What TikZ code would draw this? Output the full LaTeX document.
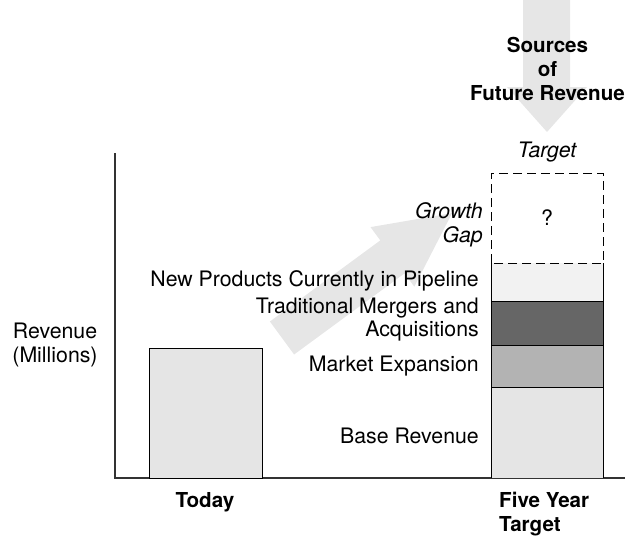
\documentclass[tikz,border=0pt]{standalone}
\usepackage{fontspec}
\setmainfont{TeX Gyre Heros}
\definecolor{arrowgray}{HTML}{E6E6E6}
\definecolor{lightbar}{HTML}{E5E5E5}
\definecolor{pipebar}{HTML}{F2F2F2}
\definecolor{mabar}{HTML}{666666}
\definecolor{mktbar}{HTML}{B3B3B3}
\definecolor{axisgray}{HTML}{333333}
\begin{document}
\begin{tikzpicture}[x=1pt,y=-1pt,
  lbl/.style={font=\fontsize{21.3}{23.5}\selectfont, inner sep=0pt, align=center},
  lblb/.style={font=\fontsize{20.6}{23.8}\selectfont\bfseries, inner sep=0pt, align=center},
  lbli/.style={font=\fontsize{21.3}{23.5}\selectfont\itshape, inner sep=0pt, align=center},
  barline/.style={draw=black, line width=0.9pt},
  axisline/.style={draw=axisgray, line width=1.3pt},
  bigarrow/.style={fill=arrowgray}]
\useasboundingbox (0,0) rectangle (627,541);
% large arrows
\fill[bigarrow] (523,0) -- (523,87) -- (507,87) -- (547,132) -- (587,87) -- (570,87) -- (570,0) -- cycle;
\fill[bigarrow] (269.9,321.5) -- (380.3,240.4) -- (370.5,227.1) -- (452.1,213.1) -- (414.3,286.7) -- (404.5,273.4) -- (294.1,354.5) -- cycle;
% axes
\draw[axisline] (115,153) -- (115,478) -- (625,478);
% today bar
\filldraw[fill=lightbar, barline] (149,348) rectangle (262,478);
% five year bar
\fill[lightbar] (491,387) rectangle (603,478);
\fill[mktbar] (491,345) rectangle (603,387);
\fill[mabar] (491,301) rectangle (603,345);
\fill[pipebar] (491,263) rectangle (603,301);
\draw[barline] (491,478) -- (491,263);
\draw[barline] (603,478) -- (603,263);
\draw[barline] (491,301) -- (603,301);
\draw[barline] (491,345) -- (603,345);
\draw[barline] (491,387) -- (603,387);
\draw[barline, line width=1pt, dash pattern=on 9pt off 5pt] (491,263) -- (491,173) -- (603,173) -- (603,263) -- cycle;
% labels
\node[lblb] (src) at (547.5,69) {Sources\\of\\Future Revenue};
\node[lbli] (tgt) at (547,152) {Target};
\node[lbli, align=right, anchor=east] (gg) at (483,225) {Growth\\Gap};
\node[lbl] (q) at (547,218) {?};
\node[lbl, anchor=east] (np) at (479,281) {New Products Currently in Pipeline};
\node[lbl, anchor=east, align=right] (ma) at (479,319.5) {Traditional Mergers and\\Acquisitions};
\node[lbl, anchor=east] (me) at (479,366) {Market Expansion};
\node[lbl, anchor=east] (br) at (479,436) {Base Revenue};
\node[lbl] (rev) at (55,345) {Revenue\\(Millions)};
\node[lblb] (today) at (205,502) {Today};
\node[lblb, align=left, anchor=west] (fy) at (499,514) {Five Year\\Target};
\end{tikzpicture}
\end{document}
